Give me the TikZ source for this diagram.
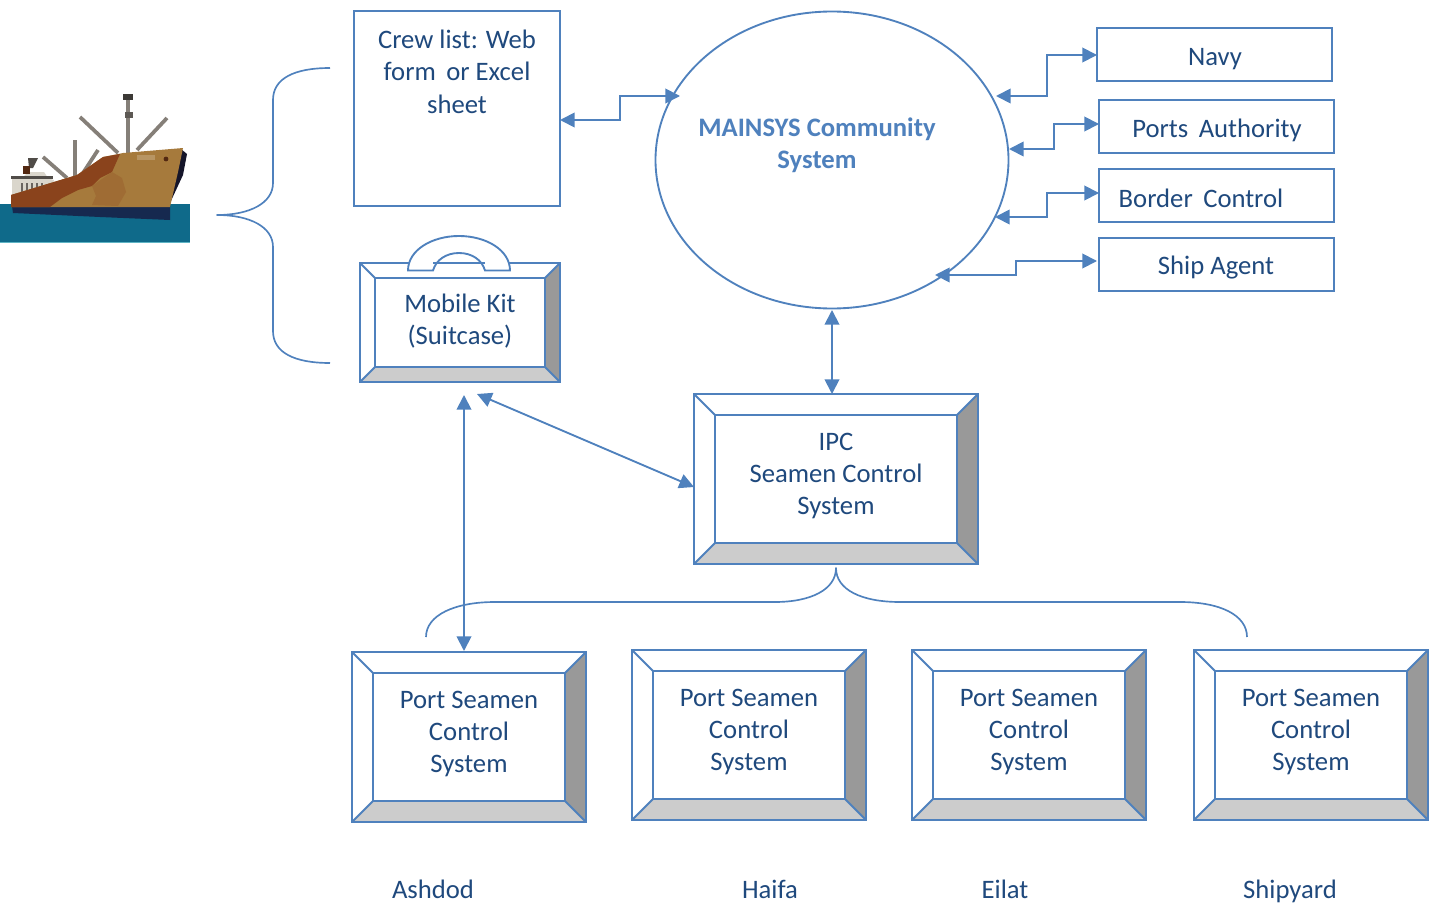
\documentclass[tikz,border=0pt]{standalone}
\usepackage{fontspec}
\setmainfont{Carlito}
\usetikzlibrary{arrows.meta,calc,shapes.geometric}
\definecolor{ln}{HTML}{4F81BD}
\definecolor{tx}{HTML}{1F497D}
\definecolor{bevR}{HTML}{999999}
\definecolor{bevB}{HTML}{CCCCCC}
\definecolor{sea}{HTML}{0F6A8A}
\definecolor{seaedge}{HTML}{5FB4C4}
\definecolor{keel}{HTML}{16294F}
\definecolor{rust}{HTML}{8A431C}
\definecolor{tan}{HTML}{A67A3C}
\definecolor{mast}{HTML}{857F78}
\definecolor{bowdark}{HTML}{15152A}
\definecolor{cabin}{HTML}{DAD6CC}
\tikzset{
  ln/.style={draw=ln,line width=1.4pt},
  box/.style={ln,fill=white,rectangle,inner sep=0pt,outer sep=0pt},
  lab/.style={text=tx,font=\fontsize{20}{24.3}\selectfont,align=center,inner sep=0pt},
  biarrow/.style={draw=ln,line width=1.4pt,{Triangle[length=11pt,width=11pt]}-{Triangle[length=11pt,width=11pt]}},
  brace/.style={draw=ln,line width=1.25pt,line join=round},
  spar/.style={draw=mast,line width=2.8pt}
}
% name, x0,y0,x1,y1, inset
\newcommand{\bevelbox}[6]{%
  \pgfmathsetmacro{\ax}{#2+#6}\pgfmathsetmacro{\ay}{#3+#6}%
  \pgfmathsetmacro{\bx}{#4-#6}\pgfmathsetmacro{\by}{#5-#6}%
  \node[box,minimum width={(#4-#2)*0.75pt},minimum height={(#5-#3)*0.75pt}] (#1) at ({(#2+#4)/2},{(#3+#5)/2}) {};
  \path[fill=bevR] (#4,#3) -- (\bx,\ay) -- (\bx,\by) -- (#4,#5) -- cycle;
  \path[fill=bevB] (#2,#5) -- (\ax,\by) -- (\bx,\by) -- (#4,#5) -- cycle;
  \draw[ln] (#2,#3) rectangle (#4,#5);
  \draw[ln] (\ax,\ay) rectangle (\bx,\by);
  \draw[ln] (#2,#3) -- (\ax,\ay) (#4,#3) -- (\bx,\ay) (#2,#5) -- (\ax,\by) (#4,#5) -- (\bx,\by);
}
\newcommand{\plainbox}[5]{%
  \node[box,minimum width={(#4-#2)*0.75pt},minimum height={(#5-#3)*0.75pt}] (#1) at ({(#2+#4)/2},{(#3+#5)/2}) {};
}
\begin{document}
\begin{tikzpicture}[x=0.75pt,y=-0.75pt]
\useasboundingbox (0,0) rectangle (1435,906);
% ship
\fill[seaedge] (0,241) rectangle (190,243);
\fill[sea] (0,204) rectangle (190,241.5);
\draw[spar] (128,154) -- (128,96);
\fill[mast!45!black] (123,94) rectangle (133,100);
\fill[mast!70!black] (125,112) rectangle (133,118);
\draw[spar] (118,153) -- (80,117);
\draw[spar] (137,150) -- (167,118);
\draw[spar] (75,177) -- (75,140);
\draw[spar] (67,178) -- (43,157);
\draw[spar] (83,173) -- (98,150);
% cabin
\fill[cabin] (12,178) -- (24,176) -- (28,172) -- (44,172) -- (48,178) -- (54,180) -- (52,190) -- (12,196) -- cycle;
\foreach \wx in {21,26,31,36,41}{\fill[mast!80!black] (\wx,183) rectangle ++(1.6,9);}
\fill[mast!60!black] (11,176) rectangle (53,178.5);
\fill[mast!60!black] (28,158) -- (38,158) -- (33,168) -- (29,168) -- cycle;
\fill[rust!60!black] (23,166) rectangle (30,174);
% hull
\fill[keel] (12,206) -- (170,206) -- (170,220) -- (100,217) -- (13,213) -- cycle;
\fill[bowdark] (181,149) -- (187,154) -- (183,175) -- (170,203) -- (168,185) -- cycle;
\fill[tan] (11,195) -- (77,175) -- (103,157) -- (123,153) -- (183,148) -- (178,172) -- (170,207) -- (11,207) -- cycle;
\fill[rust] (11,195) -- (77,175) -- (103,157) -- (120,154) -- (112,172) -- (100,178) -- (92,186) -- (78,190) -- (62,198) -- (50,207) -- (11,207) -- cycle;
\fill[tan!75!rust] (92,186) -- (112,172) -- (122,178) -- (126,192) -- (118,206) -- (92,205) -- (96,196) -- cycle;
\fill[tan!80!white] (137,155) rectangle (155,160);
\fill[rust!60!black] (166,159) circle (2.4);
% braces
\draw[brace] (330,68) .. controls (295,68) and (273,78) .. (273,100) -- (273,183)
  .. controls (273,203) and (250,215) .. (217,215)
  .. controls (250,215) and (273,227) .. (273,247) -- (273,331)
  .. controls (273,353) and (295,363) .. (330,363);
\draw[brace] (426,637) .. controls (426,615) and (455,602) .. (495,602) -- (775,602)
  .. controls (810,602) and (836,590) .. (836,568)
  .. controls (836,590) and (862,602) .. (900,602) -- (1180,602)
  .. controls (1220,602) and (1247,615) .. (1247,637);
% crew list
\plainbox{crew}{354}{11}{560}{206}
\node[lab] (crewt) at (457,71.5) {Crew list: Web\\form\, or Excel\\sheet};
% community system
\node[ln,ellipse,fill=white,minimum width=264.75pt,minimum height=222.75pt,inner sep=0pt,outer sep=0pt] (mainsys) at (832,160) {};
\node[lab,font=\fontsize{20}{24.3}\bfseries\selectfont,text=ln] (maint) at (817,145) {MAINSYS Community\\System};
% externals
\plainbox{navy}{1097}{28}{1332}{81}
\plainbox{ports}{1099}{100}{1334}{153}
\plainbox{border}{1099}{169}{1334}{222}
\plainbox{agent}{1099}{238}{1334}{291}
\node[lab] (navyt) at (1215,59) {Navy};
\node[lab] (portst) at (1217,130) {Ports\, Authority};
\node[lab] (bordert) at (1201,198) {Border\, Control};
\node[lab] (agentt) at (1216,268) {Ship Agent};
% suitcase
\bevelbox{kit}{360}{263}{560}{382}{15}
\draw[ln,fill=white] (408,270.5) .. controls (408,250) and (432,236) .. (459,236) .. controls (486,236) and (510,250) .. (510,270.5) -- (485,270.5) .. controls (482,260) and (472,253) .. (459,253) .. controls (446,253) and (436,260) .. (433,270.5) -- cycle;
\draw[ln] (433,263) -- (485,263);
\node[lab] (kitt) at (460,321) {Mobile Kit\\(Suitcase)};
% IPC
\bevelbox{ipc}{694}{394}{978}{564}{21}
\node[lab] (ipct) at (836,476) {IPC\\Seamen Control\\System};
% ports
\bevelbox{pa}{352}{652}{586}{822}{21}
\bevelbox{ph}{632}{650}{866}{820}{21}
\bevelbox{pe}{912}{650}{1146}{820}{21}
\bevelbox{ps}{1194}{650}{1428}{820}{21}
\node[lab] (pat) at (469,734) {Port Seamen\\Control\\System};
\node[lab] (pht) at (749,732) {Port Seamen\\Control\\System};
\node[lab] (pet) at (1029,732) {Port Seamen\\Control\\System};
\node[lab] (pst) at (1311,732) {Port Seamen\\Control\\System};
\node[lab] (l1) at (433,889) {Ashdod};
\node[lab] (l2) at (770,889) {Haifa};
\node[lab] (l3) at (1005,889) {Eilat};
\node[lab] (l4) at (1290,891) {Shipyard};
% connection points
\coordinate (c1) at (560,120); \coordinate (m1) at (680,96);
\coordinate (m2) at (996,96);  \coordinate (c2) at (1097,55);
\coordinate (m3) at (1009,149);\coordinate (c3) at (1099,124);
\coordinate (m4) at (995,217); \coordinate (c4) at (1099,193);
\coordinate (m5) at (935,275); \coordinate (c5) at (1097,261);
\coordinate (m6) at (832,310); \coordinate (c6) at (832,394);
\coordinate (k1) at (464,395); \coordinate (p1) at (464,651);
\coordinate (k2) at (477,394); \coordinate (c7) at (694,487);
% connectors
\draw[biarrow] (c1) -- ++(60,0) |- (m1);
\draw[biarrow] (m2) -- ++(51,0) |- (c2);
\draw[biarrow] (m3) -- ++(45,0) |- (c3);
\draw[biarrow] (m4) -- ++(52,0) |- (c4);
\draw[biarrow] (m5) -- ++(81,0) |- (c5);
\draw[biarrow] (m6) -- (c6);
\draw[biarrow] (k1) -- (p1);
\draw[biarrow] (k2) -- (c7);
\end{tikzpicture}
\end{document}
